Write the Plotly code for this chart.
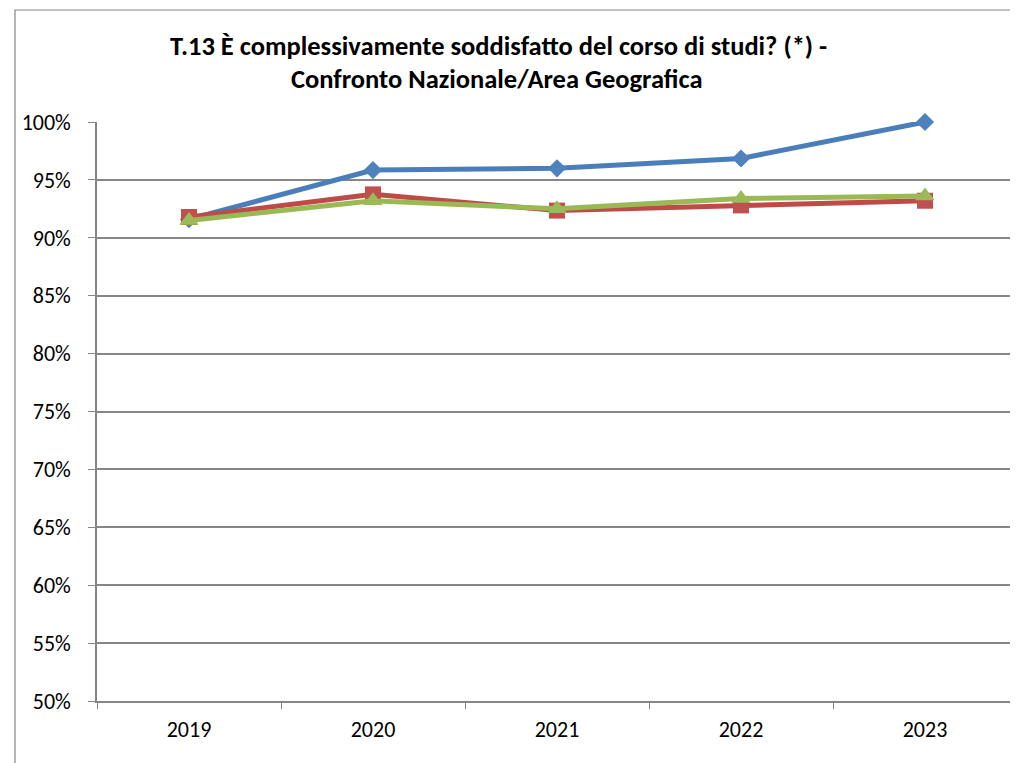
import plotly.graph_objects as go

years = ["2019", "2020", "2021", "2022", "2023"]
ateneo = [0.916, 0.9585, 0.960, 0.9685, 1.000]
area_geografica = [0.918, 0.9375, 0.9235, 0.928, 0.932]
nazionale = [0.915, 0.932, 0.925, 0.934, 0.936]
series_names = ["Ateneo", "Area Geografica", "Nazionale"]
title_line1 = "T.13 È complessivamente soddisfatto del corso di studi? (*) -"
title_line2 = "Confronto Nazionale/Area Geografica"

# page body has an 8px default margin; work in page pixels and shift
OFF = 8
W, H = 1018, 763
L, R, T, B = 97 - OFF, 9, 122 - OFF, 70
pw, ph = W - L - R, H - T - B

def px(x):
    return (x - OFF - L) / pw

def py(y):
    return (H - B - (y - OFF)) / ph

FONT = "Carlito, Calibri, Lato, sans-serif"

fig = go.Figure()
fig.add_trace(go.Scatter(
    x=years, y=ateneo, name=series_names[0], mode="lines+markers",
    line=dict(color="#4A7EBB", width=5),
    marker=dict(symbol="diamond", size=14, color="#4F81BD", line=dict(width=0)),
    cliponaxis=False))
fig.add_trace(go.Scatter(
    x=years, y=area_geografica, name=series_names[1], mode="lines+markers",
    line=dict(color="#BE4B48", width=5),
    marker=dict(symbol="square", size=16, color="#C0504D", line=dict(width=0)),
    cliponaxis=False))
fig.add_trace(go.Scatter(
    x=years, y=nazionale, name=series_names[2], mode="lines+markers",
    line=dict(color="#98B954", width=5),
    marker=dict(symbol="triangle-up", size=17, color="#9BBB59", line=dict(width=0)),
    cliponaxis=False))

fig.update_layout(
    width=W, height=H,
    margin=dict(l=L, r=R, t=T, b=B, autoexpand=False),
    paper_bgcolor="white", plot_bgcolor="white",
    showlegend=False,
    font=dict(family=FONT, size=22, color="black"),
    xaxis=dict(
        type="category", range=[-0.5, 4.5], tickson="boundaries",
        ticks="outside", ticklen=6, tickcolor="#868686", tickwidth=1,
        showline=True, linecolor="#868686", linewidth=2,
        showgrid=False, tickfont=dict(family=FONT, size=22),
        ticklabelstandoff=8, fixedrange=True,
    ),
    yaxis=dict(
        range=[0.5, 1.0], dtick=0.05, tickformat=".0%",
        ticks="outside", ticklen=7, tickcolor="#868686", tickwidth=1,
        showline=True, linecolor="#868686", linewidth=1.5,
        showgrid=True, gridcolor="#868686", gridwidth=1.5,
        zeroline=False, tickfont=dict(family=FONT, size=22),
        ticklabelstandoff=13, fixedrange=True,
    ),
    annotations=[
        dict(text="<b>" + title_line1 + "</b>", x=px(498), y=py(46), xref="paper", yref="paper",
             xanchor="center", yanchor="middle", showarrow=False,
             font=dict(family=FONT, size=26.5, color="black")),
        dict(text="<b>" + title_line2 + "</b>", x=px(497), y=py(79), xref="paper", yref="paper",
             xanchor="center", yanchor="middle", showarrow=False,
             font=dict(family=FONT, size=26.5, color="black")),
    ],
    shapes=[
        dict(type="rect", xref="paper", yref="paper",
             x0=px(15), x1=px(1040), y0=py(790), y1=py(10),
             line=dict(color="#868686", width=1.2), fillcolor="rgba(0,0,0,0)", layer="below"),
    ],
    hovermode=False,
)

fig.write_html("out.html")
